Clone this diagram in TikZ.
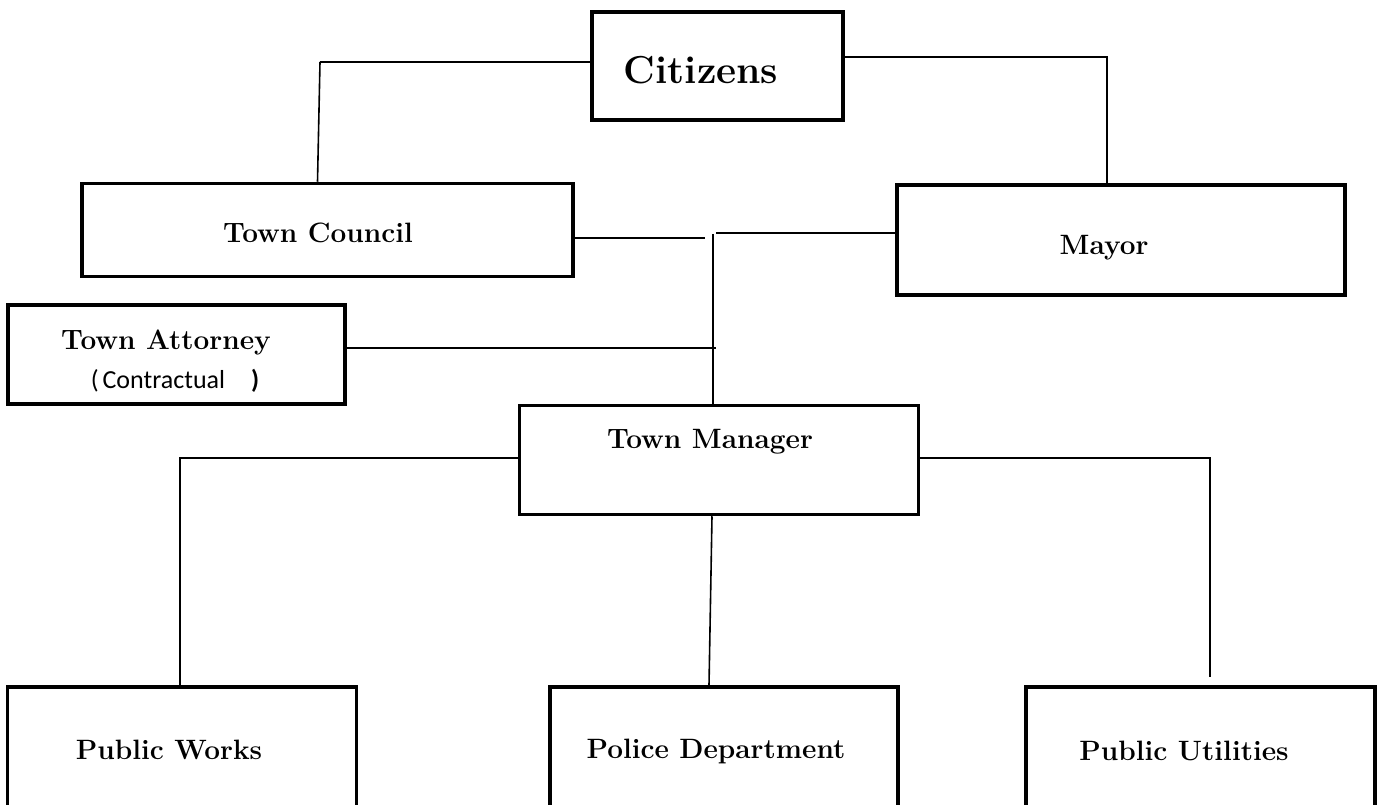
\documentclass[tikz,border=0pt]{standalone}
\usepackage{fontspec}
\newfontfamily\calibri{Carlito}
\usetikzlibrary{positioning}

\tikzset{
  box/.style={draw,line width=3.5pt,rectangle,inner sep=0pt},
  txt/.style={font=\fontsize{28}{32}\selectfont\bfseries,inner sep=0pt},
  link/.style={line width=1.6pt},
}

\begin{document}
\begin{tikzpicture}[x=1pt,y=-1pt]
  \useasboundingbox (0,0) rectangle (1381,805);
  % boxes
  \node[box,minimum width=251pt,minimum height=108pt] (cit) at (717.5,66) {};
  \node[box,minimum width=491pt,minimum height=93pt] (council) at (327.5,230) {};
  \node[box,minimum width=448pt,minimum height=110pt] (mayor) at (1121,240) {};
  \node[box,minimum width=337pt,minimum height=99pt] (attorney) at (176.5,354.5) {};
  \node[box,minimum width=399pt,minimum height=109pt] (manager) at (719,460) {};
  \node[box,minimum width=349pt,minimum height=144pt] (works) at (182,759) {};
  \node[box,minimum width=348pt,minimum height=144pt] (police) at (724,759) {};
  \node[box,minimum width=349pt,minimum height=144pt] (utilities) at (1200.5,759) {};
  % texts
  \node[txt,font=\fontsize{39}{44}\selectfont\bfseries] (cit-t) at (701,70) {Citizens};
  \node[txt] (council-t) at (318,233) {Town Council};
  \node[txt] (mayor-t) at (1104,248) {Mayor};
  \node[txt] (attorney-t) at (166,342) {Town Attorney};
  \node[txt,font=\fontsize{26}{30}\selectfont\calibri] (contract-t) at (175,381) {(\hspace{4pt}Contractual\hspace{26pt}\textbf{)}};
  \node[txt] (manager-t) at (710,442) {Town Manager};
  \node[txt] (works-t) at (169,750) {Public Works};
  \node[txt] (police-t) at (716,751) {Police Department};
  \node[txt] (utilities-t) at (1184,751) {Public Utilities};
  % free ends
  \coordinate (cL) at (320,62);
  \coordinate (gapL) at (705,238);
  \coordinate (gapR) at (716,233);
  \coordinate (spine) at (713,234);
  \coordinate (attEnd) at (716,348);
  \coordinate (utilEnd) at (1210,677);
  % connectors
  \draw[line width=2.4pt] ([yshift=4pt]cit.west) -- (cL);
  \draw[link] (cL) -- ([xshift=-10pt]council.north);
  \draw[link,line width=1.2pt] ([yshift=9pt]cit.east) -| ([xshift=-14pt]mayor.north);
  \draw[link] ([yshift=-8pt]council.east) -- (gapL);
  \draw[link] ([yshift=7pt]mayor.west) -- (gapR);
  \draw[link] (spine) -- ([xshift=-6pt]manager.north);
  \draw[link] ([yshift=6.5pt]attorney.east) -- (attEnd);
  \draw[link] ([yshift=2pt]manager.west) -| ([xshift=-2pt]works.north);
  \draw[link] ([yshift=2pt]manager.east) -| (utilEnd);
  \draw[link] ([xshift=-7pt]manager.south) -- ([xshift=-15pt]police.north);
\end{tikzpicture}
\end{document}
